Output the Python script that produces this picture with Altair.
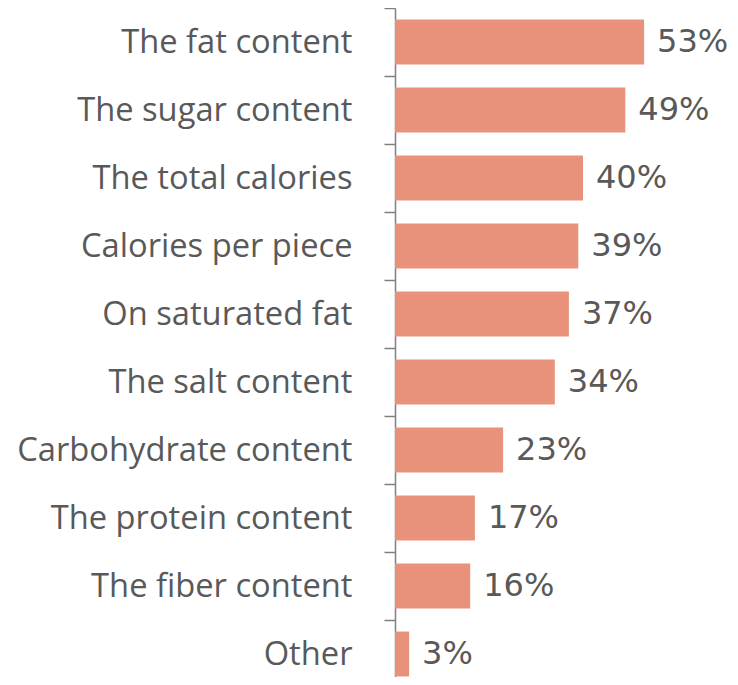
import altair as alt
import pandas as pd

categories = ["The fat content", "The sugar content", "The total calories",
              "Calories per piece", "On saturated fat", "The salt content",
              "Carbohydrate content", "The protein content", "The fiber content", "Other"]
values = [53, 49, 40, 39, 37, 34, 23, 17, 16, 3]

df = pd.DataFrame({"category": categories, "value": values})
df["label"] = [f"{v}%" for v in values]

STEP = 68
H = STEP * len(categories)
W = 282

y = alt.Y("category:N", sort=categories, title=None,
          scale=alt.Scale(paddingInner=0.34, paddingOuter=0.17),
          axis=alt.Axis(labelFont="Open Sans", labelFontSize=32.7, labelColor="#595959",
                        labelPadding=32, tickSize=11, tickColor="#7f7f7f", tickWidth=1.5,
                        domainColor="#7f7f7f", domainWidth=1.5,
                        tickOffset=-STEP / 2, labelOffset=STEP / 2, labelLimit=0))
x = alt.X("value:Q", title=None, scale=alt.Scale(domain=[0, 60], nice=False), axis=None)

bars = alt.Chart(df).mark_bar(color="#E8927C").encode(x=x, y=y)
text = alt.Chart(df).mark_text(align="left", baseline="middle", dx=13,
                               font="DejaVu Sans", fontSize=32, color="#595959").encode(
    x=x, y=alt.Y("category:N", sort=categories), text="label:N")

chart = (bars + text).properties(
    width=W, height=H,
    autosize=alt.AutoSizeParams(type="none"),
    padding={"left": 387, "top": 0, "right": 53, "bottom": -11},
).configure_view(stroke=None)

chart.save("out.html", embed_options={"renderer": "svg", "actions": False})
